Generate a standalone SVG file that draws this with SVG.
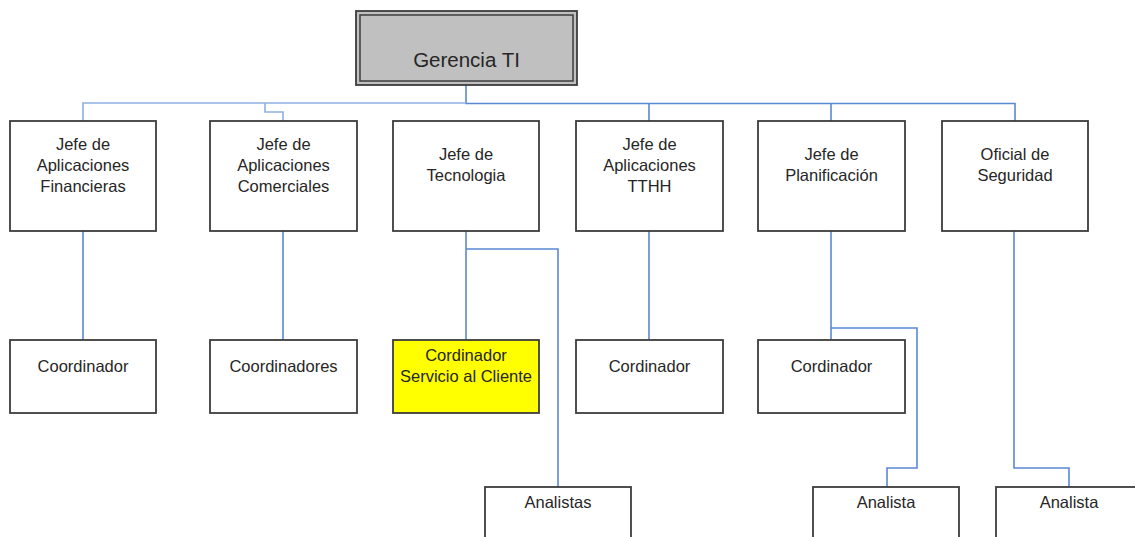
<svg xmlns="http://www.w3.org/2000/svg" width="1135" height="537" viewBox="0 0 1135 537">
  <style>
    .box { fill: #ffffff; stroke: #3c3c3c; stroke-width: 1.8; }
    .hl { fill: #ffff00; }
    .top { fill: #c0c0c0; }
    .lbl { font-family: "Liberation Sans", Arial, sans-serif; font-size: 16.5px; fill: #262626; text-anchor: middle; }
    .big { font-size: 20.5px; }
    .wire { fill: none; stroke: #5a88d4; stroke-width: 1.6; }
    .wire-lt { stroke: #8db0e4; }
  </style>

  <!-- connectors -->
  <g id="connectors">
    <!-- trunk from Gerencia TI -->
    <path class="wire" d="M466 85 V103.5 H1015 V121"/>
    <path class="wire wire-lt" d="M466 103 H83 V121"/>
    <path class="wire wire-lt" d="M265 103 V112 H283 V121"/>
    <path class="wire" d="M649 103.5 V121"/>
    <path class="wire" d="M831 103.5 V121"/>
    <!-- second level -->
    <path class="wire" d="M83 231 V340"/>
    <path class="wire" d="M283 231 V340"/>
    <path class="wire" d="M466 231 V340"/>
    <path class="wire" d="M466 249 H558 V487"/>
    <path class="wire" d="M649 231 V340"/>
    <path class="wire" d="M831 231 V340"/>
    <path class="wire" d="M831 328 H917 V468 H887 V487"/>
    <path class="wire" d="M1014 231 V468 H1069 V487"/>
  </g>

  <!-- root -->
  <g id="gerencia">
    <rect class="box top" x="356" y="11" width="221" height="74"/>
    <rect x="360" y="15" width="213" height="66" fill="none" stroke="#3c3c3c" stroke-width="1.5"/>
    <text class="lbl big" x="466.5" y="67">Gerencia TI</text>
  </g>

  <!-- first level -->
  <g id="jefe-financieras">
    <rect class="box" x="10" y="121" width="146" height="110"/>
    <text class="lbl" x="83" y="149.5">Jefe de</text>
    <text class="lbl" x="83" y="170.5">Aplicaciones</text>
    <text class="lbl" x="83" y="191.5">Financieras</text>
  </g>
  <g id="jefe-comerciales">
    <rect class="box" x="210" y="121" width="147" height="110"/>
    <text class="lbl" x="283.5" y="149.5">Jefe de</text>
    <text class="lbl" x="283.5" y="170.5">Aplicaciones</text>
    <text class="lbl" x="283.5" y="191.5">Comerciales</text>
  </g>
  <g id="jefe-tecnologia">
    <rect class="box" x="393" y="121" width="146" height="110"/>
    <text class="lbl" x="466" y="160">Jefe de</text>
    <text class="lbl" x="466" y="181">Tecnologia</text>
  </g>
  <g id="jefe-tthh">
    <rect class="box" x="576" y="121" width="147" height="110"/>
    <text class="lbl" x="649.5" y="149.5">Jefe de</text>
    <text class="lbl" x="649.5" y="170.5">Aplicaciones</text>
    <text class="lbl" x="649.5" y="191.5">TTHH</text>
  </g>
  <g id="jefe-planificacion">
    <rect class="box" x="758" y="121" width="147" height="110"/>
    <text class="lbl" x="831.5" y="160">Jefe de</text>
    <text class="lbl" x="831.5" y="181">Planificación</text>
  </g>
  <g id="oficial-seguridad">
    <rect class="box" x="942" y="121" width="146" height="110"/>
    <text class="lbl" x="1015" y="160">Oficial de</text>
    <text class="lbl" x="1015" y="181">Seguridad</text>
  </g>

  <!-- second level -->
  <g id="coordinador">
    <rect class="box" x="10" y="340" width="146" height="73"/>
    <text class="lbl" x="83" y="371.5">Coordinador</text>
  </g>
  <g id="coordinadores">
    <rect class="box" x="210" y="340" width="147" height="73"/>
    <text class="lbl" x="283.5" y="371.5">Coordinadores</text>
  </g>
  <g id="cordinador-servicio">
    <rect class="box hl" x="393" y="340" width="146" height="73"/>
    <text class="lbl" x="466" y="361">Cordinador</text>
    <text class="lbl" x="466" y="382">Servicio al Cliente</text>
  </g>
  <g id="cordinador-tthh">
    <rect class="box" x="576" y="340" width="147" height="73"/>
    <text class="lbl" x="649.5" y="371.5">Cordinador</text>
  </g>
  <g id="cordinador-planificacion">
    <rect class="box" x="758" y="340" width="147" height="73"/>
    <text class="lbl" x="831.5" y="371.5">Cordinador</text>
  </g>

  <!-- third level -->
  <g id="analistas-tecnologia">
    <rect class="box" x="485" y="487" width="146" height="70"/>
    <text class="lbl" x="558" y="508">Analistas</text>
  </g>
  <g id="analista-planificacion">
    <rect class="box" x="813" y="487" width="146" height="70"/>
    <text class="lbl" x="886" y="508">Analista</text>
  </g>
  <g id="analista-seguridad">
    <rect class="box" x="996" y="487" width="146" height="70"/>
    <text class="lbl" x="1069" y="508">Analista</text>
  </g>
</svg>
